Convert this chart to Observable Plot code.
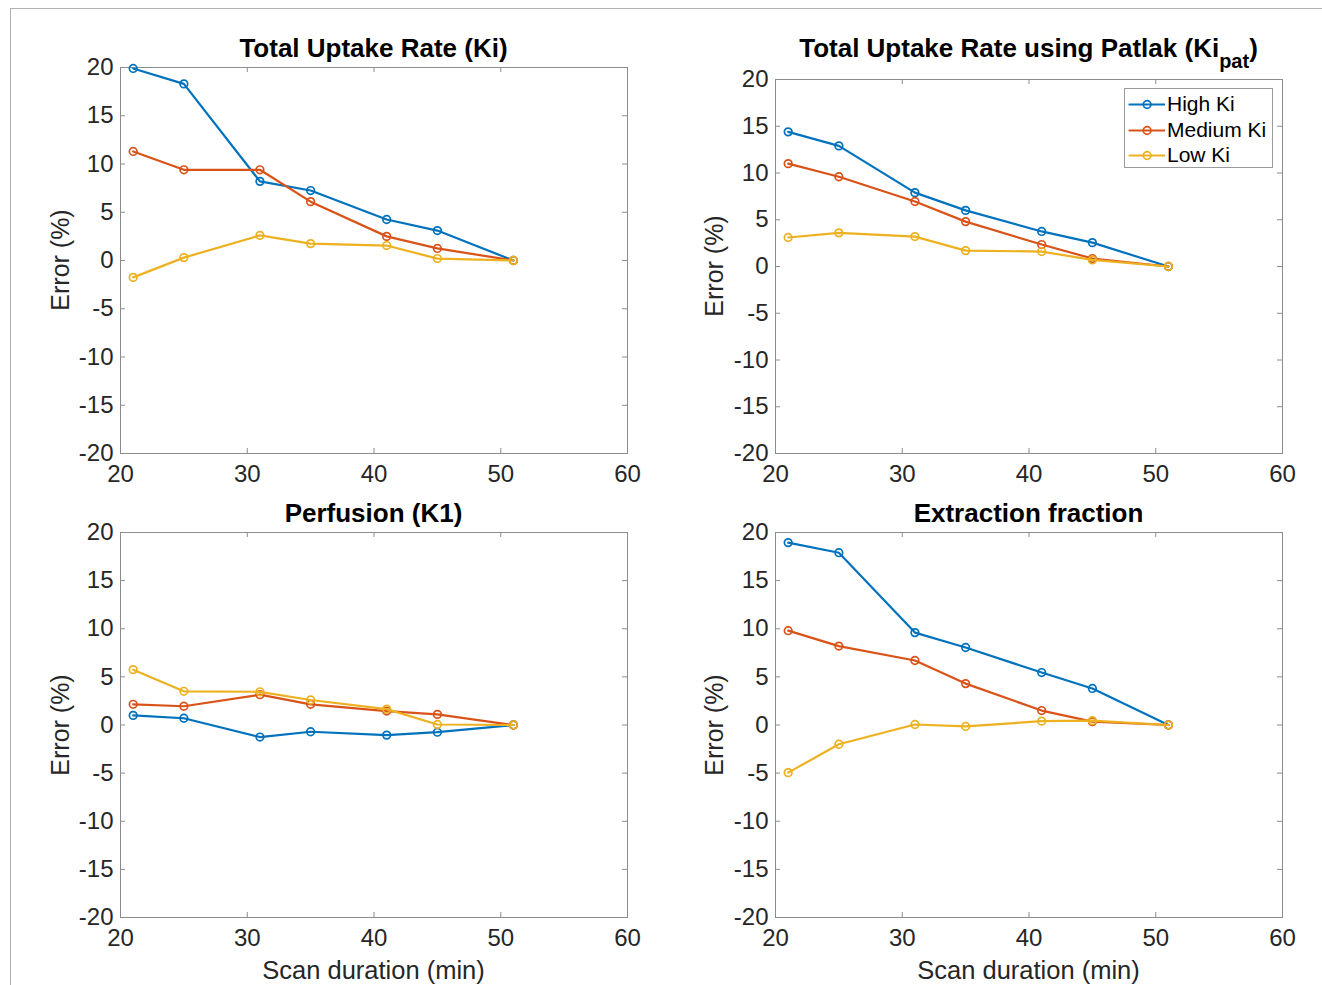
<!DOCTYPE html>
<html>
<head>
<meta charset="utf-8">
<script src="https://cdn.jsdelivr.net/npm/d3@7"></script>
<script src="https://cdn.jsdelivr.net/npm/@observablehq/plot@0.6"></script>
<style>
  html, body { margin: 0; padding: 0; background: #fff; }
  #wrap { position: relative; width: 1322px; height: 985px; overflow: hidden; font-family: "Liberation Sans", Arial, Helvetica, sans-serif; color: #262626; }
  .abs { position: absolute; }
  .title { position: absolute; font-weight: bold; font-size: 26px; color: #000; white-space: nowrap; transform: translate(-50%, -50%); }
  .title sub { font-size: 20px; vertical-align: -11px; line-height: 0; }
  .ylab { position: absolute; font-size: 25px; white-space: nowrap; transform: translate(-50%, -50%) rotate(-90deg); }
  .xlab { position: absolute; font-size: 25.5px; white-space: nowrap; transform: translate(-50%, -50%); }
  #legend { position: absolute; left: 1124px; top: 88px; width: 149px; height: 80px; border: 1px solid #9a9a9a; background: #fff; box-sizing: border-box; }
  .lrow { position: absolute; left: 0; height: 24px; width: 148px; }
  .lrow span { position: absolute; left: 42px; top: 0; font-size: 21px; line-height: 24px; color: #000; }
</style>
</head>
<body>
<div id="wrap"></div>
<script>
// ---- data ----
const durations = [21, 25, 31, 35, 41, 45, 51];
const seriesNames = ["High Ki", "Medium Ki", "Low Ki"];
const seriesColors = ["#0072BD", "#D95319", "#EDB120"];
const xTicks = [20, 30, 40, 50, 60];
const yTicks = [-20, -15, -10, -5, 0, 5, 10, 15, 20];

// Total Uptake Rate (Ki)
const kiHigh = [19.9, 18.3, 8.2, 7.25, 4.25, 3.1, 0];
const kiMedium = [11.3, 9.4, 9.4, 6.1, 2.5, 1.25, 0];
const kiLow = [-1.75, 0.3, 2.6, 1.75, 1.55, 0.2, 0];
// Total Uptake Rate using Patlak (Ki_pat)
const patHigh = [14.4, 12.9, 7.9, 6.0, 3.75, 2.55, 0];
const patMedium = [11.0, 9.6, 6.95, 4.8, 2.35, 0.85, 0];
const patLow = [3.1, 3.6, 3.2, 1.7, 1.6, 0.7, 0];
// Perfusion (K1)
const k1High = [1.0, 0.7, -1.25, -0.7, -1.05, -0.75, 0];
const k1Medium = [2.15, 1.95, 3.15, 2.15, 1.45, 1.1, 0];
const k1Low = [5.75, 3.5, 3.45, 2.6, 1.65, 0.05, 0];
// Extraction fraction
const efHigh = [18.95, 17.9, 9.6, 8.05, 5.45, 3.8, 0];
const efMedium = [9.8, 8.2, 6.7, 4.3, 1.5, 0.35, 0];
const efLow = [-4.95, -2.0, 0.05, -0.15, 0.4, 0.45, 0];

const titles = ["Total Uptake Rate (Ki)", "Total Uptake Rate using Patlak (Ki<sub>pat</sub>)", "Perfusion (K1)", "Extraction fraction"];
const yLabel = "Error (%)";
const xLabel = "Scan duration (min)";

const panels = [
  {series: [kiHigh, kiMedium, kiLow], left: 0, top: 0, width: 661, height: 500, mt: 67, mb: 47, ml: 120, mr: 34},
  {series: [patHigh, patMedium, patLow], left: 655, top: 0, width: 667, height: 500, mt: 79, mb: 47, ml: 120, mr: 40},
  {series: [k1High, k1Medium, k1Low], left: 0, top: 500, width: 661, height: 485, mt: 32, mb: 68, ml: 120, mr: 34},
  {series: [efHigh, efMedium, efLow], left: 655, top: 500, width: 667, height: 485, mt: 32, mb: 68, ml: 120, mr: 40}
];

const wrap = document.getElementById("wrap");
const frameColor = "#8c8c8c";
const tickLen = 5;

// outer border lines of the figure
const bt = document.createElement("div");
bt.className = "abs"; bt.style.cssText = "left:10px;top:8px;width:1312px;height:0;border-top:1px solid #b0b0b0;";
wrap.appendChild(bt);
const bl = document.createElement("div");
bl.className = "abs"; bl.style.cssText = "left:10px;top:8px;width:0;height:977px;border-left:1px solid #b0b0b0;";
wrap.appendChild(bl);

panels.forEach((p, i) => {
  const fw = p.width - p.ml - p.mr;
  const fh = p.height - p.mt - p.mb;
  const marks = [];
  // inward ticks on all four sides
  marks.push(Plot.tickX(xTicks, {x: d => d, stroke: frameColor, insetTop: fh - tickLen}));
  marks.push(Plot.tickX(xTicks, {x: d => d, stroke: frameColor, insetBottom: fh - tickLen}));
  marks.push(Plot.tickY(yTicks, {y: d => d, stroke: frameColor, insetRight: fw - tickLen}));
  marks.push(Plot.tickY(yTicks, {y: d => d, stroke: frameColor, insetLeft: fw - tickLen}));
  marks.push(Plot.frame({stroke: frameColor}));
  p.series.forEach((vals, s) => {
    const rows = durations.map((d, k) => ({x: d, y: vals[k]}));
    marks.push(Plot.line(rows, {x: "x", y: "y", stroke: seriesColors[s], strokeWidth: 2.2}));
    marks.push(Plot.dot(rows, {x: "x", y: "y", r: 3.8, stroke: seriesColors[s], strokeWidth: 1.7, fill: "none"}));
  });
  const svg = Plot.plot({
    width: p.width, height: p.height,
    marginTop: p.mt, marginBottom: p.mb, marginLeft: p.ml, marginRight: p.mr,
    style: {fontSize: "24px", fontFamily: '"Liberation Sans", Arial, Helvetica, sans-serif', color: "#262626", background: "transparent", overflow: "visible"},
    x: {domain: [20, 60], ticks: xTicks, tickSize: 0, tickPadding: 11, tickFormat: d => String(d), label: null},
    y: {domain: [-20, 20], ticks: yTicks, tickSize: 0, tickPadding: 7, tickFormat: d => String(d), label: null},
    marks
  });
  svg.style.position = "absolute";
  svg.style.left = p.left + "px";
  svg.style.top = p.top + "px";
  wrap.appendChild(svg);

  const cx = p.left + p.ml + fw / 2;
  const t = document.createElement("div");
  t.className = "title";
  t.innerHTML = titles[i];
  t.style.left = cx + "px";
  t.style.top = (i < 2 ? 48 : 513) + "px";
  wrap.appendChild(t);

  const yl = document.createElement("div");
  yl.className = "ylab";
  yl.textContent = yLabel;
  yl.style.left = (p.left + (i % 2 === 0 ? 60 : 59)) + "px";
  yl.style.top = (p.top + p.mt + fh / 2) + "px";
  wrap.appendChild(yl);

  if (i >= 2) {
    const xl = document.createElement("div");
    xl.className = "xlab";
    xl.textContent = xLabel;
    xl.style.left = cx + "px";
    xl.style.top = "970px";
    wrap.appendChild(xl);
  }
});

// legend (top-right panel)
const legend = document.createElement("div");
legend.id = "legend";
seriesNames.forEach((name, s) => {
  const row = document.createElement("div");
  row.className = "lrow";
  row.style.top = (3 + s * 25.5) + "px";
  const sw = Plot.plot({
    width: 40, height: 24, margin: 0,
    x: {domain: [0, 1], axis: null}, y: {domain: [0, 1], axis: null},
    style: {background: "transparent", position: "absolute", left: "0px", top: "0px"},
    marks: [
      Plot.line([{x: 0.1, y: 0.5}, {x: 0.98, y: 0.5}], {x: "x", y: "y", stroke: seriesColors[s], strokeWidth: 2.2}),
      Plot.dot([{x: 0.54, y: 0.5}], {x: "x", y: "y", r: 3.8, stroke: seriesColors[s], strokeWidth: 1.7, fill: "none"})
    ]
  });
  row.appendChild(sw);
  const lab = document.createElement("span");
  lab.textContent = name;
  row.appendChild(lab);
  legend.appendChild(row);
});
wrap.appendChild(legend);
</script>
</body>
</html>
